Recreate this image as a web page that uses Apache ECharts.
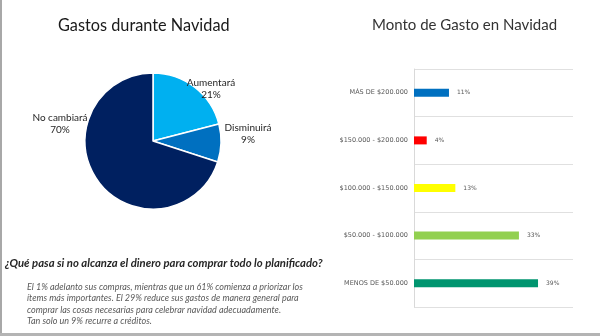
<!DOCTYPE html>
<html>
<head>
<meta charset="utf-8">
<style>
html,body{margin:0;padding:0;background:#fff;}
#chart{width:600px;height:336px;}
</style>
<script src="https://cdn.jsdelivr.net/npm/echarts@6/dist/echarts.min.js"></script>
</head>
<body>
<div id="chart"></div>
<script>
// ---- Data ----
var pieCategories = ['Aumentará', 'Disminuirá', 'No cambiará'];
var pieValues = [21, 9, 70];
var pieColors = ['#00b0f0', '#0070c0', '#002060'];

var barCategories = ['MÁS DE $200.000', '$150.000 - $200.000', '$100.000 - $150.000', '$50.000 - $100.000', 'MENOS DE $50.000'];
var barValues = [11, 4, 13, 33, 39];
var barColors = ['#0070c0', '#ff0000', '#ffff00', '#92d050', '#00956f'];

var pieTitle = 'Gastos durante Navidad';
var barTitle = 'Monto de Gasto en Navidad';
var question = '¿Qué pasa si no alcanza el dinero para comprar todo lo planificado?';
var paragraph = [
  'El 1% adelanto sus compras, mientras que un 61% comienza a priorizar los',
  'ítems más importantes. El 29% reduce sus gastos de manera general para',
  'comprar las cosas necesarias para celebrar navidad adecuadamente.',
  'Tan solo un 9% recurre a créditos.'
];

// label anchor positions (layout only)
var pieLabelPos = [[211, 89], [248, 134], [60, 124]];

var chart = echarts.init(document.getElementById('chart'), null, {renderer: 'canvas'});

var graphics = [
  {type: 'rect', shape: {x: 0, y: 0, width: 2, height: 336}, style: {fill: '#a8a8a8'}, silent: true},
  {type: 'rect', shape: {x: 0, y: 333, width: 600, height: 3}, style: {fill: '#b4b4b4'}, silent: true},
  {type: 'text', left: 5, top: 258, style: {text: question, font: 'italic bold 11.3px Lato', fill: '#262626'}}
];
paragraph.forEach(function (line, i) {
  graphics.push({type: 'text', left: 27, top: 282.5 + i * 11.5,
    style: {text: line, font: 'italic 9px Lato', fill: '#595959'}});
});
pieCategories.forEach(function (c, i) {
  graphics.push({type: 'text', x: pieLabelPos[i][0], y: pieLabelPos[i][1], z: 100, zlevel: 0,
    style: {text: c + '\n' + pieValues[i] + '%', font: '10px Lato', fill: '#262626',
      align: 'center', verticalAlign: 'middle', lineHeight: 12}});
});

var option = {
  animation: false,
  backgroundColor: '#ffffff',
  title: [
    {text: pieTitle, left: 53, top: 13, textStyle: {fontFamily: 'Lato', fontWeight: 'normal', fontSize: 16.3, color: '#1a1a1a'}},
    {text: barTitle, left: 367, top: 13, textStyle: {fontFamily: 'Lato', fontWeight: 'normal', fontSize: 15, color: '#333333'}}
  ],
  grid: {left: 414, right: 27, top: 69, bottom: 29},
  xAxis: {type: 'value', min: 0, max: 50, show: false, splitLine: {show: false}},
  yAxis: {
    type: 'category', data: barCategories, inverse: true,
    axisLine: {show: true, lineStyle: {color: '#d9d9d9'}},
    axisTick: {show: false},
    splitLine: {show: true, lineStyle: {color: '#e0e0e0'}},
    axisLabel: {fontFamily: 'DejaVu Sans', fontSize: 6.5, color: '#595959', margin: 6}
  },
  series: [
    {
      type: 'pie',
      z: 1,
      center: [153, 141],
      radius: 68,
      startAngle: 90,
      clockwise: true,
      data: pieCategories.map(function (c, i) {
        return {name: c, value: pieValues[i], itemStyle: {color: pieColors[i]}};
      }),
      itemStyle: {borderColor: '#ffffff', borderWidth: 1.5},
      label: {show: false},
      labelLine: {show: false}
    },
    {
      type: 'bar',
      barWidth: 8,
      data: barValues.map(function (v, i) {
        return {value: v, itemStyle: {color: barColors[i]}};
      }),
      label: {
        show: true, position: 'right', distance: 8,
        formatter: '{c}%', fontFamily: 'DejaVu Sans', fontSize: 6, color: '#595959'
      }
    }
  ],
  graphic: {elements: graphics}
};
chart.setOption(option);
</script>
</body>
</html>
